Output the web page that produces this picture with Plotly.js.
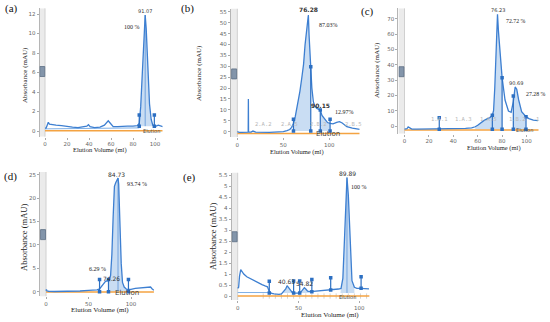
<!DOCTYPE html>
<html><head><meta charset="utf-8">
<script src="https://cdn.plot.ly/plotly-3.0.1.min.js"></script>
<style>html,body{margin:0;padding:0;background:#fff}#chart{width:550px;height:322px}</style>
</head><body><div id="chart"></div>
<script>
// ---------------- DATA ----------------
// (a)
const A_X = [0, 1, 2, 3, 4, 6, 10, 15, 20, 25, 30, 35, 38, 39.5, 41, 45, 50, 54, 56, 57.5, 59, 62, 66, 70, 75, 80, 84, 85.7, 87, 88.5, 90, 91.07, 92, 93.5, 95, 96.5, 98, 99.4, 101, 103, 105, 107];
const A_Y = [0.3, 0.3, 0.6, 0.9, 0.7, 0.65, 0.6, 0.55, 0.45, 0.4, 0.35, 0.4, 0.5, 0.65, 0.45, 0.35, 0.4, 0.6, 0.9, 1.05, 0.85, 0.45, 0.45, 0.5, 0.5, 0.5, 0.55, 0.8, 2.5, 6, 10, 11.9, 10.5, 6, 2.8, 1.2, 0.6, 0.5, 0.5, 0.6, 0.55, 0.45];
const A_BASE_X = [0, 85.7]; const A_BASE_Y = [0.22, 0.32];
const A_MX = [85.7, 99.4]; const A_MTOP = [1.65, 1.65]; const A_MBOT = [0.5, 0.5];
const A_PEAK = [91.07, 11.9];
const A_FILLS = [[85.7, 99.4]];
const A_XT = [0, 20, 40, 60, 80, 100]; const A_YT = [0, 2, 4, 6, 8, 10, 12];
const A_LABELS = ['91.07']; const A_LX = [91.07]; const A_LY = [12.35];
const A_PCT = ['100 %']; const A_PX = [79]; const A_PY = [10.7];

// (b)
const B_X = [0, 2, 5, 10, 11.8, 12, 12.2, 15, 17, 20, 25, 30, 35, 40, 45, 50, 54, 57, 59, 61, 63, 66.3, 68, 70, 72, 73.6, 75, 76.28, 77.2, 78, 79, 79.8, 81, 82.6, 84, 86.3, 88, 90.15, 92, 95.3, 98, 100.8, 104, 108, 111, 114, 119, 125, 130, 133];
const B_Y = [0, -0.3, -0.3, -0.2, -0.2, 15, -0.2, -0.2, 0.3, -0.2, -0.3, -0.3, -0.3, -0.2, -0.1, 0, 0.5, 1, 2, 3.8, 7, 13.8, 18.5, 24.5, 31, 39.8, 46, 52.5, 53.5, 44, 36, 29.8, 20, 13.8, 12, 10.7, 10.5, 10, 7.5, 5.4, 4.2, 3.8, 3.6, 4.3, 4.6, 4.0, 2.3, 1.6, 1.2, 1.1];
const B_MX = [61, 79.8, 90.15, 100.8]; const B_MTOP = [5.7, 29.8, 10, 5.7]; const B_MBOT = [0.3, 0.3, 0.3, 0.3];
const B_FILLS = [[61, 79.8], [90.15, 100.8]];
const B_XT = [0, 50, 100]; const B_YT = [0, 5, 10, 15, 20, 25, 30, 35, 40, 45, 50, 55];
const B_LABELS = ['76.28', '90.15']; const B_LX = [77, 90]; const B_LY = [56, 11.8];
const B_PCT = ['87.03%', '12.97%']; const B_PX = [99.5, 117]; const B_PY = [49, 9.2];
const B_FRAC = ['2.A.2', '2.A.5', '2.B.2', '2.B.5']; const B_FX = [28, 57, 88, 126]; const B_FY = [1.4, 1.4, 1.4, 1.4];

// (c)
const C_X = [0, 2, 3, 4.5, 6, 10, 20, 28.5, 35, 45, 50, 55, 58, 60, 62, 65, 68, 70, 72, 73, 74, 75, 76.23, 77, 78.1, 80, 82.4, 85.2, 87.4, 89.2, 90.69, 92, 93.6, 96, 99.6, 102, 105.6, 109.5];
const C_Y = [-2, -1.8, -0.6, -1.4, -2, -2, -2, -2, -2, -1.8, -1.6, -1.2, -0.5, 0.5, 1.8, 3.5, 4.8, 5.5, 7, 10, 25, 48, 73, 62, 50.8, 31.6, 17, 9.8, 9, 16, 25.5, 24, 17, 9.3, 6.1, 4.8, 3.9, 3.5];
const C_MX = [28.5, 72, 80, 89.2, 99.6]; const C_MTOP = [5.4, 7, 31.6, 19.6, 6.1]; const C_MBOT = [-2.2, -2.2, -2.2, -2.2, -2.2];
const C_FILLS = [[58, 80], [89.2, 99.6]];
const C_XT = [0, 20, 40, 60, 80, 100]; const C_YT = [0, 10, 20, 30, 40, 50, 60, 70];
const C_LABELS = ['76.23', '90.69']; const C_LX = [76.23, 91]; const C_LY = [75.5, 28];
const C_PCT = ['72.72 %', '27.28 %']; const C_PX = [91, 107.5]; const C_PY = [68.6, 20.7];
const C_FRAC = ['1.A.1', '1.A.3', '1.A.5', '1.B.2', '1']; const C_FX = [29, 48, 68.5, 93, 109]; const C_FY = [1, 1, 1, 1, 1];

// (d)
const D_X = [0, 0.5, 1, 3, 10, 20, 30, 40, 50, 55, 60, 63, 66, 68, 70, 72, 74.26, 76, 77.5, 79, 80.5, 82, 83.5, 84.73, 85.5, 87, 88.5, 90, 92, 95, 100, 105, 110, 115, 120, 123, 125, 127];
const D_Y = [0.2, 0.5, 0.2, 0.1, 0.05, 0.05, 0.1, 0.15, 0.3, 0.3, 0.4, 0.6, 1.2, 1.8, 2.2, 2.3, 2.4, 3.5, 8, 16, 22.5, 23.3, 23.8, 24.3, 23, 14, 6, 2, 1, 0.5, 0.5, 0.7, 0.8, 0.9, 1.0, 1.0, 0.6, 0.3];
const D_MX = [63, 73.5, 97]; const D_MTOP = [2.6, 2.6, 2.6]; const D_MBOT = [0, 0, 0];
const D_PEAK = [84.73, 24.3];
const D_FILLS = [[73.5, 97]];
const D_XT = [0, 50, 100]; const D_YT = [0, 5, 10, 15, 20, 25];
const D_LABELS = ['84.73', '74.26']; const D_LX = [83.5, 76.5]; const D_LY = [25.1, 2.9];
const D_PCT = ['93.74 %', '6.29 %']; const D_PX = [107, 61]; const D_PY = [23, 4.85];

// (e)
const E_X = [0, 0.8, 1.5, 2.5, 3.5, 5, 7.5, 10, 12.5, 15, 17.5, 20, 22.5, 24.5, 26, 28, 30, 32, 34, 36, 38, 39.5, 40.63, 42, 43.5, 45, 47, 50, 52, 53.5, 54.82, 56, 57.5, 60, 65, 70, 75, 80, 83, 85, 86.5, 88, 89.89, 91, 92.5, 94, 96, 98, 101, 104, 106, 108];
const E_Y = [0.35, 0.4, 0.9, 1.2, 1.12, 1.0, 0.88, 0.8, 0.72, 0.65, 0.58, 0.52, 0.46, 0.42, 0.2, 0.12, 0.1, 0.08, 0.08, 0.1, 0.2, 0.32, 0.47, 0.35, 0.22, 0.15, 0.13, 0.13, 0.18, 0.28, 0.38, 0.32, 0.22, 0.2, 0.22, 0.25, 0.27, 0.3, 0.32, 0.35, 0.8, 2.8, 5.4, 4.6, 2.2, 0.7, 0.4, 0.35, 0.35, 0.33, 0.35, 0.33];
const E_BASE_X = [0, 26]; const E_BASE_Y = [0.16, 0.16];
const E_MX = [26, 46, 51, 61, 76.5, 101.5]; const E_MTOP = [0.67, 0.68, 0.68, 0.75, 0.83, 0.88]; const E_MBOT = [0.14, 0.14, 0.14, 0.2, 0.27, 0.35];
const E_PEAK = [89.89, 5.4];
const E_FILLS = [[36, 46], [51, 61], [84.5, 96]];
const E_XT = [0, 50, 100]; const E_YT = [0, 0.5, 1, 1.5, 2, 2.5, 3, 3.5, 4, 4.5, 5, 5.5];
const E_LABELS = ['89.89', '40.63', '54.82']; const E_LX = [90.3, 40.5, 55.3]; const E_LY = [5.6, 0.68, 0.56];
const E_PCT = ['100 %']; const E_PX = [100]; const E_PY = [4.98];
const E_TICKS = [21, 26, 31, 36, 41, 46, 51, 56, 61, 66, 71, 76, 81, 86, 91, 96, 101, 106];

const ELUTION = 'Elution';
const PANEL_LABELS = ['(a)', '(b)', '(c)', '(d)', '(e)'];
const Y_TITLE = 'Absorbance (mAU)';
const X_TITLE = 'Elution Volume (ml)';

// ---------------- LAYOUT / STYLE CONFIG ----------------
const W = 550, H = 322;
const panels = [
  {x:A_X, y:A_Y, bx:A_BASE_X, by:A_BASE_Y, mx:A_MX, mt:A_MTOP, mb:A_MBOT, peak:A_PEAK, fills:A_FILLS, xt:A_XT, yt:A_YT,
   lab:A_LABELS, lx:A_LX, ly:A_LY, pct:A_PCT, px:A_PX, py:A_PY,
   pxX:[39.5,162.7], pxY:[8.15,136.85], xr:[-5,107], yr:[-0.6,12.6], oy:0.02, gm:6.1, elx:96.5, ely:0.02, elfs:5,
   ytl:[25,75], xtl:[100,150], plab:[11,8], lfs:5, pfs:6, ytfs:7, xtfs:6.5},
  {x:B_X, y:B_Y, mx:B_MX, mt:B_MTOP, mb:B_MBOT, fills:B_FILLS, xt:B_XT, yt:B_YT,
   lab:B_LABELS, lx:B_LX, ly:B_LY, pct:B_PCT, px:B_PX, py:B_PY, frac:B_FRAC, fx:B_FX, fy:B_FY,
   pxX:[230.9,359.7], pxY:[8.5,137.15], xr:[-7,133], yr:[-2.5,56.5], oy:-0.8, gm:26.5, elx:98, ely:-1.1, elfs:7,
   ytl:[199,73], xtl:[297,151.5], plab:[187,8], lfs:6, pfs:6, ytfs:7, xtfs:6.5, bold:true},
  {x:C_X, y:C_Y, mx:C_MX, mt:C_MTOP, mb:C_MBOT, fills:C_FILLS, xt:C_XT, yt:C_YT,
   lab:C_LABELS, lx:C_LX, ly:C_LY, pct:C_PCT, px:C_PX, py:C_PY, frac:C_FRAC, fx:C_FX, fy:C_FY,
   pxX:[398.4,538.7], pxY:[8.2,133.65], xr:[-5,110], yr:[-5,77], oy:-2.6, gm:35.5, elx:98, ely:-2.7, elfs:5,
   ytl:[377,70], xtl:[494,148], plab:[367,11], lfs:5, pfs:5.8, ytfs:7, xtfs:6.5},
  {x:D_X, y:D_Y, mx:D_MX, mt:D_MTOP, mb:D_MBOT, peak:D_PEAK, fills:D_FILLS, xt:D_XT, yt:D_YT,
   lab:D_LABELS, lx:D_LX, ly:D_LY, pct:D_PCT, px:D_PX, py:D_PY,
   pxX:[40.05,153.95], pxY:[171.9,296.4], xr:[-7,127], yr:[-1,25.6], oy:-0.05, gm:12.2, elx:95, ely:-0.2, elfs:7,
   ytl:[24,238], xtl:[100,310], plab:[10,176], lfs:6, pfs:6, ytfs:8.5, xtfs:7},
  {x:E_X, y:E_Y, bx:E_BASE_X, by:E_BASE_Y, mx:E_MX, mt:E_MTOP, mb:E_MBOT, peak:E_PEAK, fills:E_FILLS, xt:E_XT, yt:E_YT,
   lab:E_LABELS, lx:E_LX, ly:E_LY, pct:E_PCT, px:E_PX, py:E_PY, ticks:E_TICKS,
   pxX:[231.6,369.6], pxY:[172.6,300], xr:[-5,108.5], yr:[-0.18,5.62], oy:0.0, gm:2.7, elx:90.5, ely:-0.04, elfs:5,
   ytl:[213,237], xtl:[330,315], plab:[189,177], lfs:6, pfs:6, ytfs:8.5, xtfs:7}
];

const CURVE = '#3d7fd1', MARK = '#2c6fc2', FILL = 'rgba(120,170,225,0.40)', ORANGE = '#f4a342';
const SANS = 'DejaVu Sans', SERIF = 'Liberation Serif, Times New Roman, serif';

function interp(xs, ys, x) {
  for (let i = 0; i < xs.length - 1; i++) {
    if (x >= xs[i] && x <= xs[i + 1]) {
      const t = (x - xs[i]) / (xs[i + 1] - xs[i]);
      return ys[i] + t * (ys[i + 1] - ys[i]);
    }
  }
  return ys[ys.length - 1];
}
function fillPoly(xs, ys, a, b, base) {
  const px = [a, a], py = [base, interp(xs, ys, a)];
  for (let i = 0; i < xs.length; i++) if (xs[i] > a && xs[i] < b) { px.push(xs[i]); py.push(ys[i]); }
  px.push(b, b, a); py.push(interp(xs, ys, b), base, base);
  return {px, py};
}

const traces = [], shapes = [], annotations = [];
const layout = {width: W, height: H, margin: {l:0, r:0, t:0, b:0}, showlegend: false,
  paper_bgcolor: '#fff', plot_bgcolor: 'rgba(0,0,0,0)'};

panels.forEach((p, i) => {
  const s = i === 0 ? '' : String(i + 1);
  const xa = 'x' + s, ya = 'y' + s;
  layout['xaxis' + s] = {domain: [p.pxX[0] / W, p.pxX[1] / W], range: p.xr, tickvals: p.xt, anchor: ya,
    ticks: 'outside', ticklen: 2, tickcolor: '#aaa', tickfont: {size: 5.5, color: '#666', family: SANS},
    showgrid: false, zeroline: false, showline: false, fixedrange: true};
  layout['yaxis' + s] = {domain: [1 - p.pxY[1] / H, 1 - p.pxY[0] / H], range: p.yr, tickvals: p.yt, anchor: xa,
    ticks: 'outside', ticklen: 2, tickcolor: '#aaa', tickfont: {size: 5.5, color: '#666', family: SANS},
    showgrid: false, zeroline: false, showline: true, linecolor: '#b5b5b5', linewidth: 1, fixedrange: true};
  // injection band
  shapes.push({type: 'rect', xref: xa, yref: ya, x0: p.xr[0], x1: 0, y0: p.yr[0], y1: p.yr[1],
    fillcolor: '#ebebeb', line: {width: 0}, layer: 'below'});
  shapes.push({type: 'line', xref: xa, yref: ya, x0: 0, x1: 0, y0: p.yr[0], y1: p.yr[1],
    line: {color: '#d0d0d0', width: 1}, layer: 'below'});
  // gray handle
  shapes.push({type: 'rect', xref: xa, yref: ya, xsizemode: 'pixel', ysizemode: 'pixel',
    xanchor: p.xr[0] / 2, yanchor: p.gm, x0: -2.5, x1: 2.5, y0: -5, y1: 5,
    fillcolor: '#8395aa', line: {color: '#5d6f84', width: 0.8}});
  // fills
  p.fills.forEach(f => {
    const base = Math.min(...p.mb);
    const poly = fillPoly(p.x, p.y, f[0], f[1], base);
    traces.push({type: 'scatter', mode: 'lines', x: poly.px, y: poly.py, xaxis: xa, yaxis: ya,
      fill: 'toself', fillcolor: FILL, line: {width: 0}, hoverinfo: 'skip'});
  });
  // small fraction ticks
  if (p.ticks) {
    const tx = [], ty = [];
    p.ticks.forEach(t => { tx.push(t, t, null); ty.push(-0.12, 0.12, null); });
    traces.push({type: 'scatter', mode: 'lines', x: tx, y: ty, xaxis: xa, yaxis: ya,
      line: {color: '#c8c8c8', width: 0.8}, hoverinfo: 'skip'});
  }
  // orange elution line
  traces.push({type: 'scatter', mode: 'lines', x: [0, p.xr[1]], y: [p.oy, p.oy], xaxis: xa, yaxis: ya,
    line: {color: ORANGE, width: 1.6}, hoverinfo: 'skip'});
  // integration baseline
  if (p.bx) traces.push({type: 'scatter', mode: 'lines', x: p.bx, y: p.by, xaxis: xa, yaxis: ya,
    line: {color: '#7fb0e6', width: 1}, hoverinfo: 'skip'});
  // peak line
  if (p.peak) traces.push({type: 'scatter', mode: 'lines', x: [p.peak[0], p.peak[0]], y: [Math.min(...p.mb), p.peak[1]],
    xaxis: xa, yaxis: ya, line: {color: '#5a93d8', width: 0.8}, hoverinfo: 'skip'});
  // curve
  traces.push({type: 'scatter', mode: 'lines', x: p.x, y: p.y, xaxis: xa, yaxis: ya,
    line: {color: CURVE, width: 1.3}, hoverinfo: 'skip'});
  // fraction markers
  const mx = [], my = [];
  p.mx.forEach((m, k) => { mx.push(m, m, null); my.push(p.mb[k], p.mt[k], null); });
  traces.push({type: 'scatter', mode: 'lines+markers', x: mx, y: my, xaxis: xa, yaxis: ya,
    line: {color: MARK, width: 1.2}, marker: {symbol: 'square', size: 3.5, color: MARK}, hoverinfo: 'skip'});
  // labels
  p.lab.forEach((t, k) => annotations.push({xref: xa, yref: ya, x: p.lx[k], y: p.ly[k], text: p.bold ? '<b>' + t + '</b>' : t,
    showarrow: false, font: {family: SANS, size: p.lfs, color: '#333'}, xanchor: 'center', yanchor: 'middle'}));
  p.pct.forEach((t, k) => annotations.push({xref: xa, yref: ya, x: p.px[k], y: p.py[k], text: t,
    showarrow: false, font: {family: SERIF, size: p.pfs, color: '#222'}, xanchor: 'center', yanchor: 'middle'}));
  if (p.frac) p.frac.forEach((t, k) => annotations.push({xref: xa, yref: ya, x: p.fx[k], y: p.fy[k], text: t,
    showarrow: false, font: {family: 'DejaVu Sans Mono', size: 5.5, color: '#b8b8b8'}, xanchor: 'center', yanchor: 'bottom'}));
  annotations.push({xref: xa, yref: ya, x: p.elx, y: p.ely, text: ELUTION, showarrow: false,
    font: {family: SANS, size: p.elfs, color: '#444'}, xanchor: 'center', yanchor: 'middle'});
  // axis titles
  annotations.push({xref: 'paper', yref: 'paper', x: p.ytl[0] / W, y: 1 - p.ytl[1] / H, text: Y_TITLE, textangle: -90,
    showarrow: false, font: {family: SERIF, size: p.ytfs, color: '#222'}, xanchor: 'center', yanchor: 'middle'});
  annotations.push({xref: 'paper', yref: 'paper', x: p.xtl[0] / W, y: 1 - p.xtl[1] / H, text: X_TITLE,
    showarrow: false, font: {family: SERIF, size: p.xtfs, color: '#222'}, xanchor: 'center', yanchor: 'middle'});
  annotations.push({xref: 'paper', yref: 'paper', x: p.plab[0] / W, y: 1 - p.plab[1] / H, text: PANEL_LABELS[i],
    showarrow: false, font: {family: SERIF, size: 11, color: '#111'}, xanchor: 'center', yanchor: 'middle'});
});

layout.shapes = shapes;
layout.annotations = annotations;
Plotly.newPlot('chart', traces, layout, {staticPlot: true, displayModeBar: false});
</script></body></html>
